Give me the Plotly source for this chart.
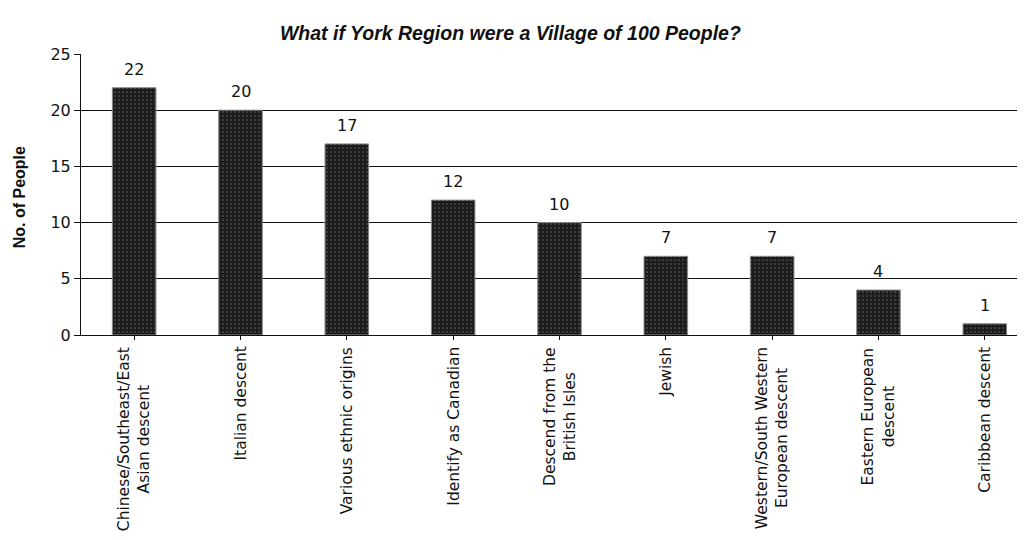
import plotly.graph_objects as go

categories = [
    "Chinese/Southeast/East<br>Asian descent",
    "Italian descent",
    "Various ethnic origins",
    "Identify as Canadian",
    "Descend from the<br>British Isles",
    "Jewish",
    "Western/South Western<br>European descent",
    "Eastern European<br>descent",
    "Caribbean descent",
]
values = [22, 20, 17, 12, 10, 7, 7, 4, 1]
y_ticks = [0, 5, 10, 15, 20, 25]

label_font = "DejaVu Sans, Verdana, sans-serif"

fig = go.Figure()
fig.add_trace(go.Bar(
    x=list(range(len(categories))),
    y=values,
    marker=dict(
        color="#1c1c1c",
        line=dict(color="#8a8a8a", width=1),
        pattern=dict(shape=".", fgcolor="#9a9a9a", bgcolor="#1c1c1c", size=4, solidity=0.15),
    ),
    width=0.41,
))

for i, v in enumerate(values):
    fig.add_annotation(
        x=i, xref="x", y=v, yref="y",
        yshift=7, text=str(v),
        xanchor="center", yanchor="bottom", showarrow=False,
        font=dict(family=label_font, size=16, color="#111"),
    )

for i, c in enumerate(categories):
    fig.add_annotation(
        x=i, xref="x", y=0, yref="paper",
        yshift=-10,
        text=c, textangle=-90,
        xanchor="center", yanchor="top",
        showarrow=False, align="center",
        font=dict(family=label_font, size=15.5, color="#111"),
    )

fig.add_annotation(
    x=-62 / 944, xref="paper", y=0.49, yref="paper",
    text="<b>No. of People</b>", textangle=-90,
    xanchor="center", yanchor="middle", showarrow=False,
    font=dict(family="Liberation Sans, Arial, sans-serif", size=16, color="#111"),
)

fig.update_layout(
    width=1017, height=532,
    margin=dict(l=73, r=0, t=46, b=205, autoexpand=False),
    paper_bgcolor="white", plot_bgcolor="white",
    showlegend=False,
    title=dict(
        text="<b><i>What if York Region were a Village of 100 People?</i></b>",
        x=0.494, xanchor="center", y=0.953, yanchor="middle",
        font=dict(family="Liberation Sans, Arial, sans-serif", size=19.5, color="#111"),
    ),
    xaxis=dict(
        range=[-0.5, 8.378],
        tickmode="array", tickvals=list(range(len(categories))),
        showticklabels=False,
        tickson="boundaries", ticks="outside", ticklen=4, tickcolor="#111",
        showline=True, linecolor="#111", linewidth=1,
        showgrid=False, zeroline=False, automargin=False,
    ),
    yaxis=dict(
        range=[0, 25],
        tickmode="array", tickvals=y_ticks,
        ticks="outside", ticklen=6, tickcolor="#111",
        tickfont=dict(family=label_font, size=16, color="#111"),
        showline=True, linecolor="#111", linewidth=1,
        showgrid=True, gridcolor="#111", gridwidth=1,
        zeroline=False, automargin=False,
    ),
)

fig.write_html("out.html")
